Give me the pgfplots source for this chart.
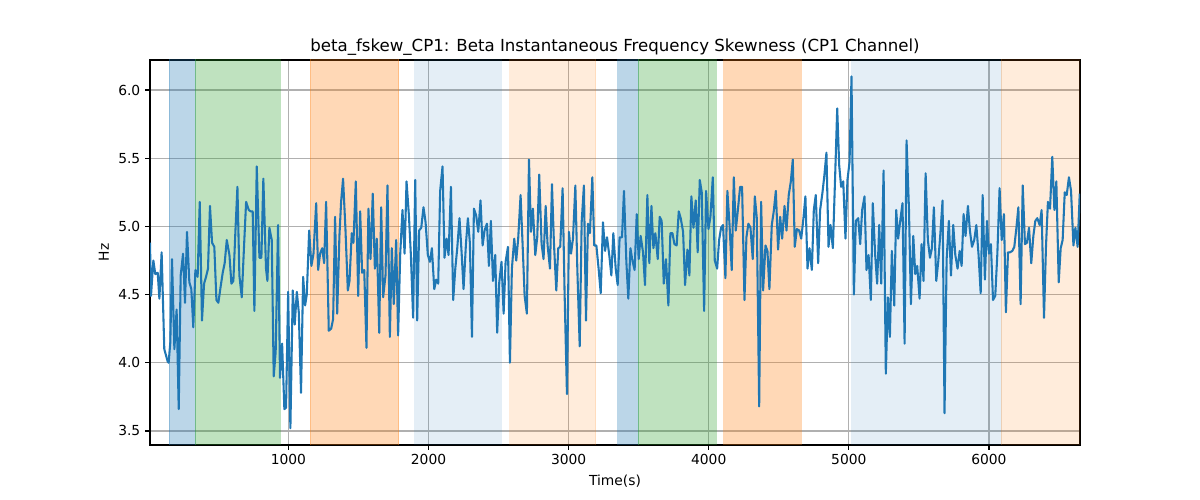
\documentclass[border=0pt]{standalone}
\usepackage{pgfplots}
\pgfplotsset{compat=1.18}
\usepackage{pgfplotstable}
\usepackage{fontspec}
\setmainfont{DejaVu Sans}
\definecolor{tabblue}{RGB}{31,119,180}
\definecolor{taborange}{RGB}{255,127,14}
\definecolor{tabgreen}{RGB}{44,160,44}
\pgfplotstableread{
x y
12 4.88
19 4.49
36 4.75
50 4.65
67 4.66
79 4.47
95 4.81
114 4.10
138 4.01
145 4.00
157 4.15
169 4.76
186 4.10
202 4.39
217 3.66
231 4.64
248 4.80
262 4.44
276 4.96
293 4.59
307 4.54
321 4.26
336 4.68
352 4.63
367 5.18
383 4.31
398 4.58
412 4.63
426 4.69
440 5.15
455 4.88
471 4.85
486 4.46
500 4.44
515 4.55
531 4.66
545 4.73
560 4.90
579 4.79
593 4.58
607 4.60
621 4.95
636 5.29
650 4.64
667 4.48
683 4.85
698 5.18
717 5.12
731 5.11
745 5.11
757 4.38
774 5.44
793 4.77
807 4.77
821 5.35
840 4.69
850 4.60
864 4.99
881 4.90
895 3.90
909 4.08
926 5.01
940 3.89
955 4.14
971 3.66
983 3.67
998 4.52
1014 3.52
1031 4.53
1045 4.28
1060 4.52
1074 4.37
1090 3.78
1105 4.63
1119 4.42
1131 4.50
1148 4.97
1164 4.71
1179 4.80
1198 5.17
1212 4.68
1226 4.80
1241 4.84
1255 4.73
1269 5.18
1288 4.235
1305 4.25
1319 4.32
1333 5.07
1348 4.36
1364 4.93
1376 5.18
1390 5.35
1407 4.98
1424 4.53
1436 4.60
1452 4.95
1464 4.88
1481 5.33
1498 4.49
1512 5.11
1526 4.66
1541 4.68
1557 4.11
1571 5.13
1586 4.76
1602 5.24
1617 4.69
1631 4.91
1648 4.22
1662 5.14
1676 4.48
1693 4.64
1707 5.30
1724 4.19
1738 4.84
1752 4.43
1769 4.90
1783 4.20
1798 4.80
1814 5.12
1829 4.80
1843 5.33
1860 5.08
1874 4.79
1890 4.33
1905 5.34
1919 4.31
1933 4.97
1948 4.99
1964 5.14
1979 5.03
1995 4.79
2010 4.74
2024 4.84
2041 4.54
2055 4.61
2069 4.58
2083 5.26
2100 5.44
2114 4.77
2129 4.91
2143 4.79
2160 5.29
2176 4.46
2191 4.69
2205 4.84
2221 5.06
2236 4.81
2250 4.54
2267 4.87
2281 5.06
2295 4.88
2310 4.19
2324 5.13
2340 5.08
2355 4.96
2371 5.19
2386 4.86
2400 4.97
2417 5.02
2431 4.71
2445 5.04
2460 4.60
2476 4.79
2490 4.22
2505 4.59
2521 4.74
2536 4.36
2550 4.74
2567 4.85
2581 4.00
2595 4.69
2612 4.91
2626 4.75
2640 4.91
2657 5.23
2671 4.88
2686 4.49
2702 4.36
2717 5.49
2731 4.96
2745 5.13
2762 4.79
2776 4.92
2790 5.38
2807 4.87
2821 4.76
2836 5.15
2850 4.86
2867 4.69
2881 5.31
2895 4.88
2912 4.53
2926 4.84
2940 4.85
2957 5.28
2971 4.52
2988 3.77
3002 4.96
3017 4.80
3031 4.91
3048 5.30
3062 4.69
3079 4.12
3093 5.03
3109 5.30
3124 4.31
3138 5.02
3152 4.95
3169 5.36
3183 4.86
3198 4.86
3214 4.69
3229 4.51
3245 5.03
3260 4.82
3274 4.92
3290 4.79
3305 4.64
3319 4.95
3336 4.69
3350 4.57
3364 4.92
3381 4.92
3395 5.26
3412 4.74
3426 4.47
3441 4.84
3455 4.75
3471 4.68
3486 5.09
3500 4.76
3514 4.93
3531 4.81
3545 4.57
3562 5.23
3576 4.73
3591 5.15
3605 4.84
3619 4.95
3636 4.76
3650 5.07
3664 5.04
3679 4.58
3695 4.76
3712 4.42
3726 4.95
3741 4.95
3755 4.87
3771 4.86
3786 5.11
3800 5.06
3817 4.96
3831 4.57
3848 4.83
3862 4.64
3876 5.22
3891 4.99
3907 5.19
3921 4.81
3936 5.34
3950 5.25
3967 4.38
3981 5.26
3998 4.98
4012 5.07
4029 5.36
4043 4.75
4060 4.69
4074 4.90
4088 4.99
4102 5.01
4119 4.62
4133 5.26
4148 5.02
4164 4.68
4179 5.36
4193 4.97
4207 5.11
4224 5.29
4238 5.29
4255 4.46
4269 4.92
4283 5.02
4298 4.99
4314 4.76
4329 5.22
4343 5.06
4360 3.68
4374 5.18
4388 4.53
4405 4.86
4419 4.82
4433 4.54
4450 5.01
4464 5.11
4479 5.26
4495 4.83
4510 5.07
4524 4.91
4541 5.15
4555 4.97
4571 5.23
4586 5.33
4600 5.49
4614 4.85
4629 4.98
4645 4.97
4660 4.91
4676 5.06
4690 5.22
4705 4.69
4719 4.84
4736 4.68
4750 5.12
4764 5.23
4781 4.73
4795 5.12
4812 5.25
4826 5.38
4840 5.54
4855 4.85
4869 5.01
4886 4.84
4902 5.36
4917 5.865
4931 5.45
4945 5.29
4960 5.33
4976 4.91
4990 5.34
5005 5.47
5019 6.10
5036 4.50
5050 5.04
5067 5.06
5081 4.87
5095 5.12
5112 5.22
5126 4.68
5141 4.79
5157 4.46
5171 5.17
5188 4.79
5202 4.58
5217 5.01
5231 4.58
5248 5.41
5264 3.92
5279 4.48
5293 4.19
5307 4.82
5324 4.42
5338 5.12
5352 4.91
5369 5.06
5383 5.17
5398 4.14
5412 5.63
5429 5.13
5443 4.43
5460 4.93
5474 4.65
5488 4.71
5505 4.47
5519 4.87
5533 4.60
5548 5.39
5564 4.90
5579 4.77
5593 4.84
5607 5.14
5624 4.60
5638 4.74
5652 4.93
5669 5.19
5683 3.63
5698 4.76
5714 5.04
5729 4.64
5745 5.01
5760 4.79
5776 4.69
5791 4.82
5805 4.71
5819 5.09
5833 4.93
5850 5.15
5864 4.97
5879 4.85
5895 4.90
5910 5.01
5926 4.79
5941 4.51
5955 5.23
5971 4.61
5986 5.04
6000 4.80
6014 4.87
6029 4.46
6045 4.49
6060 4.80
6076 5.28
6091 4.90
6107 5.09
6121 4.37
6136 4.81
6150 4.81
6167 4.82
6181 4.85
6195 4.98
6210 5.14
6226 4.43
6241 5.30
6257 4.87
6271 4.88
6286 4.99
6302 4.73
6317 4.93
6331 5.04
6345 5.06
6362 5.01
6376 5.12
6393 4.33
6407 4.85
6421 5.18
6436 5.13
6452 5.51
6467 5.12
6481 5.33
6498 4.59
6512 4.84
6526 4.90
6541 5.25
6555 5.23
6571 5.36
6586 5.26
6603 4.86
6617 4.99
6633 4.85
6648 5.24
}\datatable
\begin{document}
\begin{tikzpicture}
\path[use as bounding box] (0,0) rectangle (12in,5in);
\begin{axis}[
  at={(1.5in,0.55in)}, anchor=south west,
  scale only axis, width=9.3in, height=3.85in,
  xmin=12, xmax=6650, ymin=3.397, ymax=6.22,
  xtick={1000,2000,3000,4000,5000,6000},
  ytick={3.5,4.0,4.5,5.0,5.5,6.0},
  yticklabel style={/pgf/number format/.cd, fixed, fixed zerofill, precision=1},
  xticklabel style={/pgf/number format/.cd, set thousands separator={}},
  /pgf/number format/assume math mode=true,
  grid=major, grid style={color=black!31, line width=0.8pt},
  axis line style={line width=0.8pt},
  tick align=outside, major tick length=3.5pt,
  tick style={black, line width=0.8pt},
  xtick pos=lower, ytick pos=left,
  title={beta\_fskew\_CP1: Beta Instantaneous Frequency Skewness (CP1 Channel)},
  title style={font=\fontsize{12}{14}\selectfont, yshift=-6pt},
  xlabel={Time(s)}, ylabel={Hz},
  tick label style={font=\fontsize{10}{12}\selectfont},
  label style={font=\fontsize{10}{12}\selectfont},
]
% shaded spans
\addplot[draw=tabblue, fill=tabblue, fill opacity=0.3, draw opacity=0.3] coordinates {(150,3) (333,3) (333,7) (150,7)} -- cycle;
\addplot[draw=tabgreen, fill=tabgreen, fill opacity=0.3, draw opacity=0.3] coordinates {(333,3) (940,3) (940,7) (333,7)} -- cycle;
\addplot[draw=taborange, fill=taborange, fill opacity=0.3, draw opacity=0.3] coordinates {(1157,3) (1786,3) (1786,7) (1157,7)} -- cycle;
\addplot[draw=tabblue, fill=tabblue, fill opacity=0.12, draw opacity=0.12] coordinates {(1900,3) (2519,3) (2519,7) (1900,7)} -- cycle;
\addplot[draw=taborange, fill=taborange, fill opacity=0.15, draw opacity=0.15] coordinates {(2579,3) (3193,3) (3193,7) (2579,7)} -- cycle;
\addplot[draw=tabblue, fill=tabblue, fill opacity=0.3, draw opacity=0.3] coordinates {(3350,3) (3495,3) (3495,7) (3350,7)} -- cycle;
\addplot[draw=tabgreen, fill=tabgreen, fill opacity=0.3, draw opacity=0.3] coordinates {(3495,3) (4055,3) (4055,7) (3495,7)} -- cycle;
\addplot[draw=taborange, fill=taborange, fill opacity=0.3, draw opacity=0.3] coordinates {(4107,3) (4662,3) (4662,7) (4107,7)} -- cycle;
\addplot[draw=tabblue, fill=tabblue, fill opacity=0.12, draw opacity=0.12] coordinates {(5019,3) (6088,3) (6088,7) (5019,7)} -- cycle;
\addplot[draw=taborange, fill=taborange, fill opacity=0.15, draw opacity=0.15] coordinates {(6088,3) (6700,3) (6700,7) (6088,7)} -- cycle;
% signal
\addplot[tabblue, line width=1.5pt, no markers, line join=round] table[x=x, y=y] {\datatable};
\end{axis}
\end{tikzpicture}
\end{document}
